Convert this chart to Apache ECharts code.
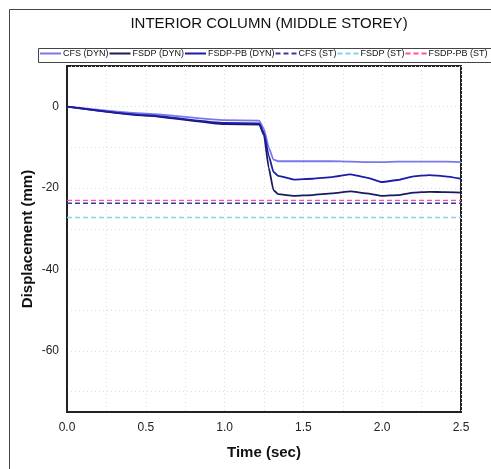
<!DOCTYPE html>
<html>
<head>
<meta charset="utf-8">
<script src="https://cdn.jsdelivr.net/npm/echarts@6/dist/echarts.min.js"></script>
<style>
  html, body { margin: 0; padding: 0; background: #fff; }
  #chart { width: 491px; height: 469px; }
</style>
</head>
<body>
<div id="chart"></div>
<script>
// time axis (sec) shared by the dynamic curves
const timeSec = [0, 0.5, 1.0, 1.22, 1.25, 1.28, 1.31, 1.34, 1.44, 1.56, 1.68, 1.80, 1.90, 2.0, 2.1, 2.2, 2.3, 2.4, 2.5];
// displacement (mm)
const cfsDyn = [0, -1.7, -3.3, -3.4, -5.5, -10, -13, -13.4, -13.4, -13.4, -13.4, -13.5, -13.6, -13.6, -13.5, -13.5, -13.5, -13.5, -13.6];
const fsdpDyn = [0, -2.2, -4.3, -4.4, -7, -15, -20.5, -21.5, -21.9, -21.7, -21.3, -20.8, -21.3, -21.9, -21.7, -21.1, -20.9, -21.0, -21.1];
const fsdpPbDyn = [0, -2.1, -4.0, -4.1, -6.5, -12, -16, -17, -17.9, -17.7, -17.3, -16.6, -17.4, -18.5, -18.0, -17.1, -16.8, -17.1, -17.7];
// static values (constant over time)
const staticTime = [0, 2.5];
const cfsSt = -23.7;
const fsdpSt = -27.2;
const fsdpPbSt = -23.0;

const yTicks = [0, -20, -40, -60];
const yGrid = [10, 0, -10, -20, -30, -40, -50, -60, -70];

const font = "Liberation Sans, Arial, sans-serif";

function pairs(xs, ys) {
    return xs.map((x, i) => [x, ys[i]]);
}
function flat(v) {
    return staticTime.map((t) => [t, v]);
}

const chart = echarts.init(document.getElementById("chart"));

const dyn = (name, data, color) => ({
    name: name,
    type: "line",
    data: data,
    symbol: "none",
    smooth: 0.15,
    smoothMonotone: "x",
    lineStyle: { color: color, width: 1.8 },
    itemStyle: { color: color },
});
const st = (name, v, color) => ({
    name: name,
    type: "line",
    data: flat(v),
    symbol: "none",
    lineStyle: { color: color, width: 1.4, type: [5, 3] },
    itemStyle: { color: color },
});

chart.setOption({
    backgroundColor: "#ffffff",
    animation: false,
    title: {
        text: "INTERIOR COLUMN (MIDDLE STOREY)",
        left: 264,
        textAlign: "center",
        top: 11,
        textStyle: { fontFamily: font, fontSize: 15, fontWeight: "normal", color: "#111" },
    },
    legend: {
        left: 39,
        top: 49,
        width: 600,
        itemWidth: 21,
        itemHeight: 10,
        itemGap: 0,
        padding: 0,
        itemStyle: { opacity: 0 },
        textStyle: { fontFamily: font, fontSize: 9, color: "#111", padding: [0, 0, 0, -3] },
        data: ["CFS (DYN)", "FSDP (DYN)", "FSDP-PB (DYN)", "CFS (ST)", "FSDP (ST)", "FSDP-PB (ST)"],
    },
    graphic: [
        { type: "rect", shape: { x: 9.5, y: 9.5, width: 500, height: 480 }, style: { fill: "none", stroke: "#444", lineWidth: 1 } },
        { type: "rect", shape: { x: 38.5, y: 48.5, width: 470, height: 14 }, style: { fill: "none", stroke: "#444", lineWidth: 1 } },
    ],
    grid: {
        left: 67,
        right: 30,
        top: 66,
        bottom: 57,
        show: true,
        borderColor: "#222",
        borderWidth: 2,
    },
    xAxis: {
        type: "value",
        min: 0,
        max: 2.5,
        interval: 0.5,
        name: "Time (sec)",
        nameLocation: "middle",
        nameGap: 33,
        nameTextStyle: { fontFamily: font, fontSize: 15, fontWeight: "bold", color: "#111" },
        axisLine: { onZero: false, lineStyle: { color: "#222", width: 2 } },
        axisTick: { show: false },
        axisLabel: {
            fontFamily: font,
            fontSize: 12,
            color: "#222",
            margin: 10,
            formatter: (v) => v.toFixed(1),
        },
        splitLine: { show: true, lineStyle: { color: "#ddd", type: [1, 3], width: 1 } },
        minorTick: { show: false, splitNumber: 2 },
        minorSplitLine: { show: true, lineStyle: { color: "#ddd", type: [1, 3], width: 1 } },
    },
    yAxis: {
        type: "value",
        min: -75,
        max: 10,
        name: "Displacement (mm)",
        nameLocation: "middle",
        nameGap: 32,
        nameMoveOverlap: false,
        nameTextStyle: { fontFamily: font, fontSize: 15, fontWeight: "bold", color: "#111" },
        axisLine: { show: true, onZero: false, lineStyle: { color: "#222", width: 2 } },
        axisTick: { show: false, customValues: yGrid },
        axisLabel: {
            fontFamily: font,
            fontSize: 12,
            color: "#222",
            margin: 8,
            customValues: yTicks,
        },
        splitLine: { show: true, lineStyle: { color: "#ddd", type: [1, 3], width: 1 } },
    },
    series: [
        dyn("CFS (DYN)", pairs(timeSec, cfsDyn), "#7878ee"),
        dyn("FSDP (DYN)", pairs(timeSec, fsdpDyn), "#1b1b5c"),
        dyn("FSDP-PB (DYN)", pairs(timeSec, fsdpPbDyn), "#1c1cab"),
        st("CFS (ST)", cfsSt, "#3b3b9c"),
        st("FSDP (ST)", fsdpSt, "#86d0f2"),
        st("FSDP-PB (ST)", fsdpPbSt, "#ff4fa6"),
    ],
});
</script>
</body>
</html>
